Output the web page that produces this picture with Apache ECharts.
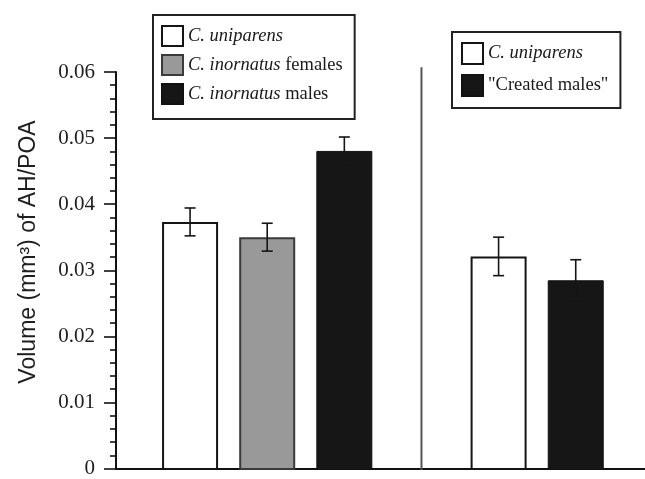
<!DOCTYPE html>
<html>
<head>
<meta charset="utf-8">
<script src="https://cdn.jsdelivr.net/npm/echarts@6/dist/echarts.min.js"></script>
<style>
html,body{margin:0;padding:0;background:#fff;}
#chart{width:645px;height:479px;}
</style>
</head>
<body>
<div id="chart"></div>
<script>
// ---- data ----
const categories = ['C. uniparens (species comparison)', 'C. inornatus females', 'C. inornatus males', 'gap', 'C. uniparens (manipulation)', 'Created males'];
const barSeriesOf = ['C. uniparens', 'C. inornatus females', 'C. inornatus males', null, 'C. uniparens', '"Created males"'];
const barMeans  = [0.0374, 0.0351, 0.0481, null, 0.0322, 0.0286];
const barErrors = [0.0021, 0.0021, 0.0021, null, 0.0029, 0.0031];
const seriesNames = ['C. uniparens', 'C. inornatus females', 'C. inornatus males', '"Created males"'];
const legendLeftNames  = ['C. uniparens', 'C. inornatus females', 'C. inornatus males'];
const legendRightNames = ['C. uniparens', '"Created males"'];
const yTickLabels = ['0', '0.01', '0.02', '0.03', '0.04', '0.05', '0.06'];
const dividerCategory = 'gap';
const dividerTop = 0.0607;
const yTitle = 'Volume (mm\u00b3) of AH/POA';

// ---- styles ----
const styles = {
  'C. uniparens': {color: '#ffffff', borderColor: '#151515', borderWidth: 2},
  'C. inornatus females': {color: '#999999', borderColor: '#3a3a3a', borderWidth: 2},
  'C. inornatus males': {color: '#161616', borderColor: '#111111', borderWidth: 1},
  '"Created males"': {color: '#161616', borderColor: '#111111', borderWidth: 1}
};

const yMin = Number(yTickLabels[0]);
const yMax = Number(yTickLabels[yTickLabels.length - 1]);
const yInterval = Number(yTickLabels[1]) - Number(yTickLabels[0]);

const chart = echarts.init(document.getElementById('chart'), null, {renderer: 'canvas'});

const barSeries = seriesNames.map(name => ({
  name: name,
  type: 'bar',
  xAxisIndex: 1,
  yAxisIndex: 1,
  stack: 'all',
  barWidth: 56,
  itemStyle: styles[name],
  emphasis: {disabled: true},
  data: barMeans.map((v, i) => (barSeriesOf[i] === name ? v : '-')),
  z: 2
}));

const errData = [];
barMeans.forEach((v, i) => { if (v != null) errData.push([i, v - barErrors[i], v + barErrors[i]]); });

const errorSeries = {
  type: 'custom',
  name: 'error',
  xAxisIndex: 1,
  yAxisIndex: 1,
  z: 5,
  silent: true,
  encode: {x: 0, y: [1, 2]},
  data: errData,
  renderItem: function (params, api) {
    const lo = api.coord([api.value(0), api.value(1)]);
    const hi = api.coord([api.value(0), api.value(2)]);
    const half = 5.5;
    const st = {stroke: '#151515', lineWidth: 1.6};
    return {
      type: 'group',
      children: [
        {type: 'line', shape: {x1: lo[0], y1: lo[1], x2: hi[0], y2: hi[1]}, style: st},
        {type: 'line', shape: {x1: hi[0] - half, y1: hi[1], x2: hi[0] + half, y2: hi[1]}, style: st},
        {type: 'line', shape: {x1: lo[0] - half, y1: lo[1], x2: lo[0] + half, y2: lo[1]}, style: st}
      ]
    };
  }
};

const dividerSeries = {
  type: 'custom',
  name: 'divider',
  xAxisIndex: 1,
  yAxisIndex: 1,
  z: 1,
  silent: true,
  clip: false,
  data: [[categories.indexOf(dividerCategory), yMin, dividerTop]],
  renderItem: function (params, api) {
    const a = api.coord([api.value(0), api.value(1)]);
    const b = api.coord([api.value(0), api.value(2)]);
    return {type: 'line', shape: {x1: a[0], y1: a[1], x2: b[0], y2: b[1]}, style: {stroke: '#555555', lineWidth: 2}};
  }
};

function legendFormatter(name) {
  if (name.indexOf('C. inornatus') === 0) {
    return '{i|C. inornatus}{n| ' + name.slice('C. inornatus '.length) + '}';
  }
  if (name.indexOf('C. ') === 0) return '{i|' + name + '}';
  return '{n|' + name + '}';
}
const legendText = {
  fontFamily: 'Liberation Serif',
  fontSize: 18.5,
  color: '#1a1a1a',
  rich: {
    i: {fontFamily: 'Liberation Serif', fontStyle: 'italic', fontSize: 18.5, color: '#1a1a1a'},
    n: {fontFamily: 'Liberation Serif', fontSize: 18.5, color: '#1a1a1a'}
  }
};

const option = {
  backgroundColor: '#ffffff',
  animation: false,
  grid: [
    {left: 116, right: 0, top: 72, bottom: 9, containLabel: false},
    {left: 151.5, right: 30.7, top: 72, bottom: 9, containLabel: false}
  ],
  xAxis: [
    {type: 'value', gridIndex: 0, min: 0, max: 1,
     axisLine: {show: true, onZero: false, lineStyle: {color: '#111', width: 2}},
     axisTick: {show: false}, axisLabel: {show: false}, splitLine: {show: false}},
    {type: 'category', gridIndex: 1, data: categories, show: false, boundaryGap: true}
  ],
  yAxis: [
    {type: 'value', gridIndex: 0, min: yMin, max: yMax, interval: yInterval,
     axisLine: {show: true, lineStyle: {color: '#111', width: 2}},
     axisTick: {show: true, length: 12, lineStyle: {color: '#111', width: 1.6}},
     minorTick: {show: true, splitNumber: 5, length: 6, lineStyle: {color: '#111', width: 1.6}},
     splitLine: {show: false},
     axisLabel: {show: true, margin: 21, fontFamily: 'Liberation Serif', fontSize: 21, color: '#1e1e1e',
       formatter: function (v) { const idx = Math.round((v - yMin) / yInterval); return yTickLabels[idx] !== undefined ? yTickLabels[idx] : ''; }}},
    {type: 'value', gridIndex: 1, min: yMin, max: yMax, interval: yInterval, show: false}
  ],
  legend: [
    {orient: 'vertical', left: 153, top: 15, data: legendLeftNames, icon: 'rect',
     itemWidth: 21, itemHeight: 20, itemGap: 7, padding: [10, 12, 14, 8],
     borderColor: '#222', borderWidth: 2, selectedMode: false,
     formatter: legendFormatter, textStyle: legendText},
    {orient: 'vertical', left: 452, top: 32, data: legendRightNames, icon: 'rect',
     itemWidth: 21, itemHeight: 21, itemGap: 9, padding: [10, 12, 11, 9],
     borderColor: '#222', borderWidth: 2, selectedMode: false,
     formatter: legendFormatter, textStyle: legendText}
  ],
  graphic: [
    {type: 'text', x: 29, y: 252, rotation: Math.PI / 2,
     style: {text: yTitle, fontFamily: 'Liberation Sans', fontSize: 23, fill: '#1e1e1e',
       textAlign: 'center', textVerticalAlign: 'middle'}}
  ],
  series: barSeries.concat([errorSeries, dividerSeries])
};

chart.setOption(option);
</script>
</body>
</html>
